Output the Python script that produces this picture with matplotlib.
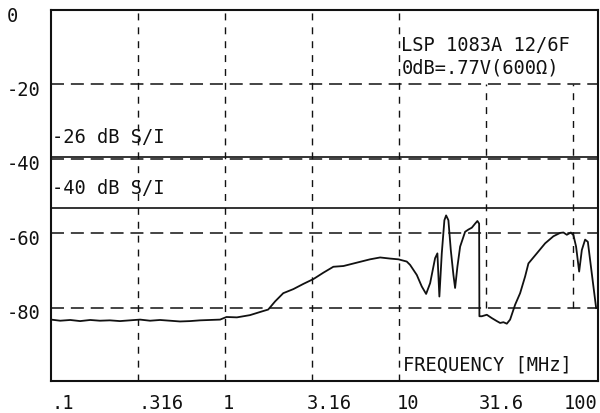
"""Plotter-style level vs frequency chart (LSP 1083A)."""

import matplotlib
matplotlib.use("Agg")
import matplotlib.pyplot as plt
from matplotlib.transforms import ScaledTranslation

# measured trace
freq_mhz = [0.100, 0.113, 0.129, 0.147, 0.168, 0.191, 0.218, 0.249, 0.284, 0.325,
            0.371, 0.423, 0.483, 0.551, 0.629, 0.718, 0.820, 0.936, 1.02, 1.17,
            1.39, 1.63, 1.77, 1.94, 2.16, 2.47, 2.82, 3.22, 3.67, 4.19,
            4.79, 5.71, 6.81, 7.78, 8.88, 9.91, 11.07, 11.57, 12.64, 13.50,
            14.30, 15.08, 16.10, 16.60, 17.04, 17.59, 18.21, 18.63, 19.20, 19.82,
            20.52, 20.98, 21.63, 22.42, 23.95, 25.02, 26.17, 27.35, 28.18, 28.83,
            28.94, 29.88, 31.92, 34.11, 36.43, 38.07, 39.76, 41.59, 43.44, 46.42,
            49.59, 52.99, 55.36, 61.85, 69.05, 77.05, 84.22, 87.98, 92.0, 97.0,
            100.4, 104.0, 108.3, 112.2, 117.2, 121.5, 125.2, 130.8, 135.6]
level_db = [-83.2, -83.5, -83.3, -83.6, -83.3, -83.5, -83.4, -83.6, -83.4, -83.2,
            -83.5, -83.3, -83.5, -83.7, -83.6, -83.4, -83.3, -83.2, -82.5, -82.6,
            -82.0, -81.0, -80.5, -78.3, -76.1, -75.0, -73.6, -72.3, -70.6, -69.0,
            -68.8, -67.9, -67.0, -66.5, -66.8, -67.0, -67.6, -68.5, -71.2, -74.3,
            -76.3, -73.4, -66.7, -65.4, -77.0, -65.4, -56.5, -55.2, -56.5, -64.5,
            -71.2, -74.7, -69.0, -63.6, -59.6, -59.0, -58.5, -57.4, -56.7, -57.4,
            -82.3, -82.3, -81.9, -82.8, -83.6, -84.1, -83.9, -84.3, -83.2, -79.2,
            -76.1, -71.6, -68.1, -65.4, -62.7, -60.8, -59.9, -59.8, -60.4, -59.8,
            -60.5, -63.6, -70.3, -64.5, -61.7, -62.3, -67.2, -74.3, -80.1]

# reference levels
si_levels = [-39.6, -53.3]
si_labels = ["-26 dB S/I", "-40 dB S/I"]

# grid
x_ticks = [0.1, 0.316, 1, 3.16, 10, 31.6, 100]
x_tick_labels = [".1", ".316", "1", "3.16", "10", "31.6", "100"]
y_ticks = [0, -20, -40, -60, -80]
y_tick_labels = ["0", "-20", "-40", "-60", "-80"]
grid_full_x = [0.316, 1, 3.16, 10]
grid_part_x = [31.6, 100]
grid_y = [-20, -40, -60, -80]

FONT = "DejaVu Sans Mono"
FS = 13.5
INK = "#111111"

fig = plt.figure(figsize=(6.0, 4.14), dpi=100)
ax = fig.add_axes([0.085, 0.0773, 0.9117, 0.8961])
ax.set_xscale("log")
ax.set_xlim(0.1, 139)
ax.set_ylim(-99.7, -0.8)

for gy in grid_y:
    ax.axhline(gy, color=INK, lw=1.1, dashes=(8.5, 4.5), zorder=1)
for gx in grid_full_x:
    ax.axvline(gx, color=INK, lw=1.0, dashes=(5, 5), zorder=1)
for gx in grid_part_x:
    ax.plot([gx, gx], [-80, -20], color=INK, lw=1.0, dashes=(5, 5), zorder=1)

for lvl, lab in zip(si_levels, si_labels):
    ax.axhline(lvl, color=INK, lw=1.2, zorder=2)
    ax.text(0.101, lvl + 3.0, lab, fontfamily=FONT, fontsize=FS, color=INK,
            ha="left", va="bottom")

ax.plot(freq_mhz, level_db, color=INK, lw=1.3, zorder=3)

ax.text(10.3, -9.2, "LSP 1083A 12/6F", fontfamily=FONT, fontsize=FS,
        color=INK, ha="left", va="center")
ax.text(10.3, -15.4, "0dB=.77V(600Ω)", fontfamily=FONT, fontsize=FS,
        color=INK, ha="left", va="center")
ax.text(10.5, -95.2, "FREQUENCY [MHz]", fontfamily=FONT, fontsize=FS,
        color=INK, ha="left", va="center")

ax.set_xticks(x_ticks)
ax.set_xticklabels(x_tick_labels, fontfamily=FONT, fontsize=FS, color=INK)
ax.minorticks_off()
ax.set_yticks(y_ticks)
ax.set_yticklabels(y_tick_labels, fontfamily=FONT, fontsize=FS, color=INK)
ax.tick_params(axis="both", length=0)
ax.tick_params(axis="x", pad=9)
ax.tick_params(axis="y", pad=32)
for lab in ax.get_yticklabels():
    lab.set_horizontalalignment("left")
    lab.set_transform(lab.get_transform()
                      + ScaledTranslation(0, -3 / 100, fig.dpi_scale_trans))
# plotter placed each label starting near its grid line
x_shift_px = [1, 1, -2, -5, -2, -7, -9]
for lab, dx in zip(ax.get_xticklabels(), x_shift_px):
    lab.set_horizontalalignment("left")
    lab.set_transform(lab.get_transform()
                      + ScaledTranslation(dx / 100, 0, fig.dpi_scale_trans))

for sp in ax.spines.values():
    sp.set_color(INK)
    sp.set_linewidth(1.5)

fig.savefig("out.png", dpi=100)
